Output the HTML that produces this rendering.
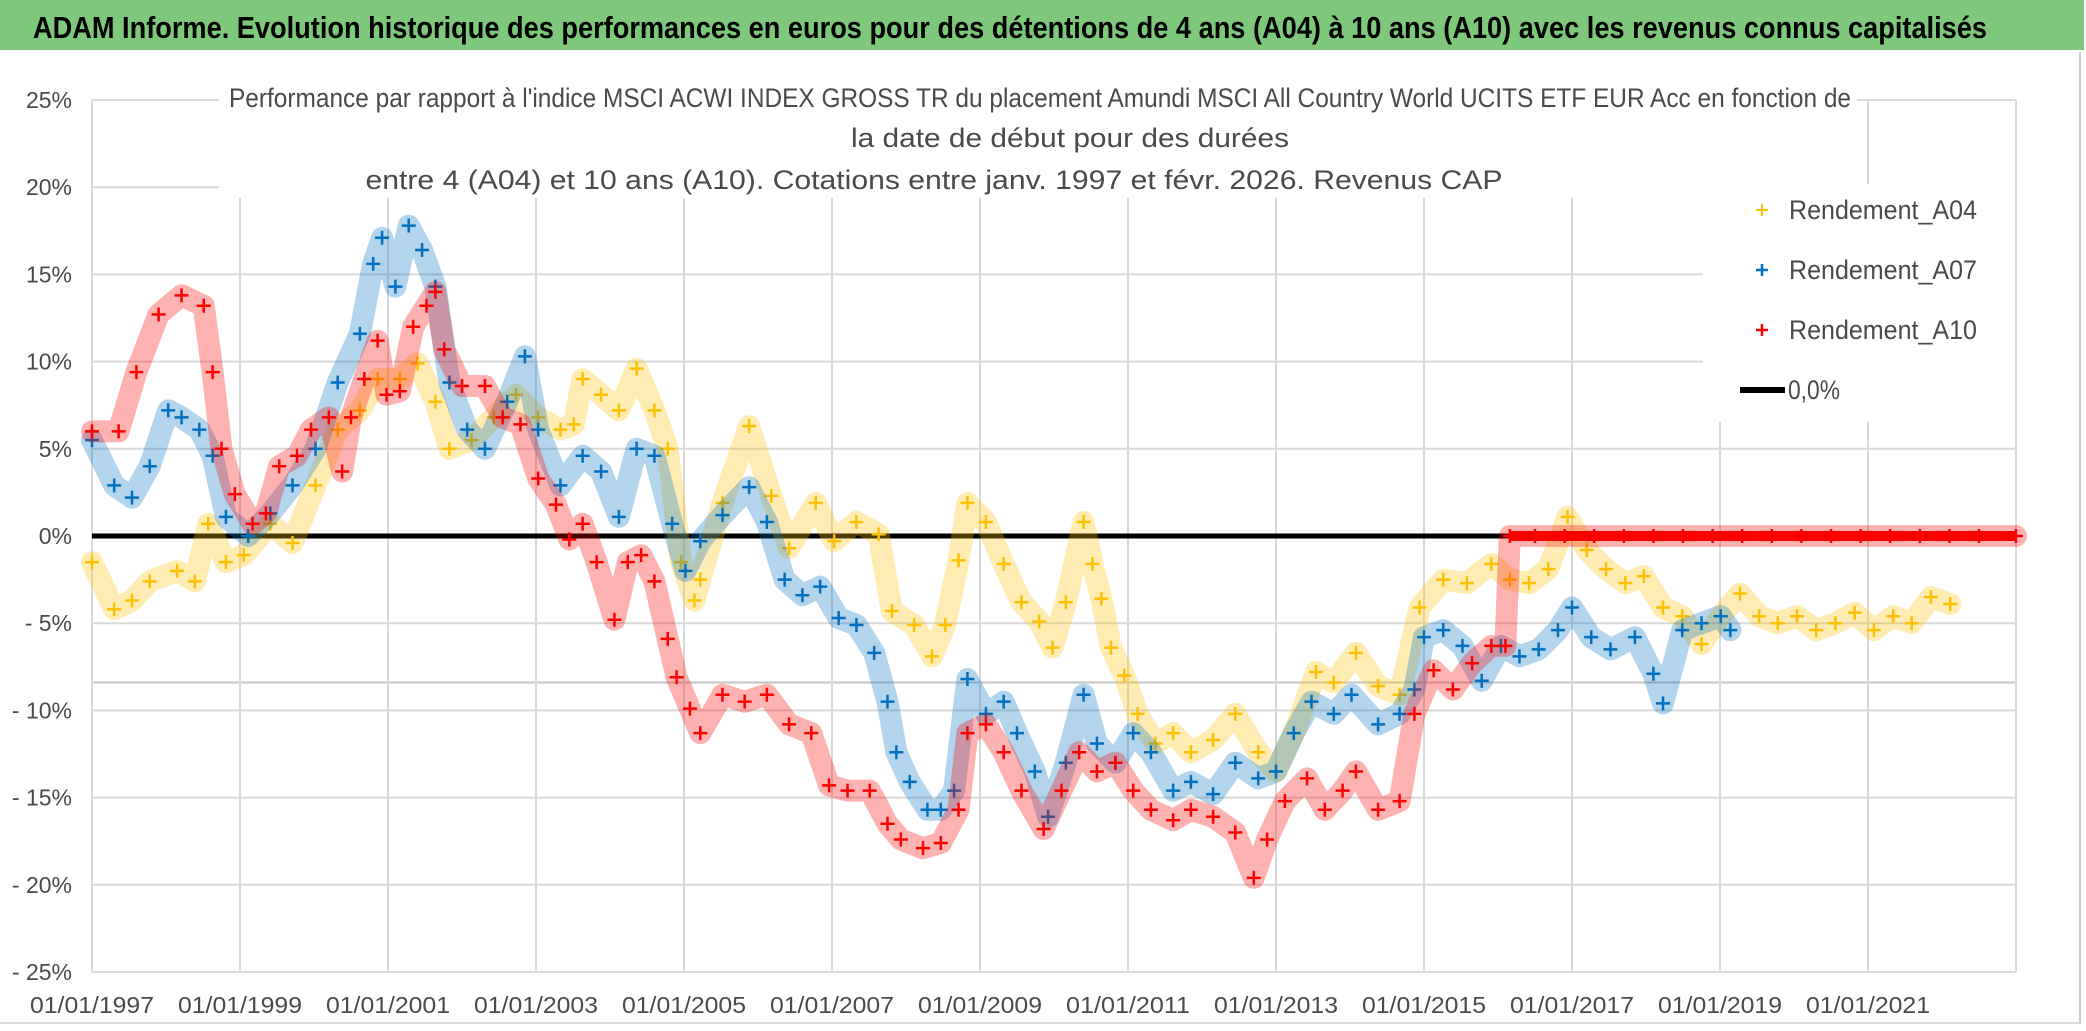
<!DOCTYPE html>
<html><head><meta charset="utf-8"><style>
html,body{margin:0;padding:0;background:#fff;}
svg{display:block;font-family:"Liberation Sans",sans-serif;}
</style></head><body>
<svg id="chart" width="2086" height="1031" viewBox="0 0 2086 1031" xmlns="http://www.w3.org/2000/svg">
<rect x="0" y="0" width="2086" height="1031" fill="#ffffff"/>
<rect x="0" y="0" width="2084" height="50" fill="#7dc87b"/>
<text x="33" y="38" font-size="31" font-weight="bold" fill="#000" textLength="1954" lengthAdjust="spacingAndGlyphs">ADAM Informe. Evolution historique des performances en euros pour des détentions de 4 ans (A04) à 10 ans (A10) avec les revenus connus capitalisés</text>
<line x1="2080" y1="52" x2="2080" y2="1024" stroke="#d0d0d0" stroke-width="2"/>
<line x1="0" y1="1023" x2="2080" y2="1023" stroke="#d9d9d9" stroke-width="2"/>
<g id="grid"></g>
<g id="series"></g>
<rect x="219" y="78" width="1638" height="120" fill="#fff"/>
<g fill="#4a4a4a" font-size="27">
<text x="229" y="107" textLength="1622" lengthAdjust="spacingAndGlyphs">Performance par rapport à l'indice MSCI ACWI INDEX GROSS TR  du placement Amundi MSCI All Country World UCITS ETF EUR Acc en fonction de</text>
<text x="1070" y="147" text-anchor="middle" textLength="438" lengthAdjust="spacingAndGlyphs">la date de début pour des durées</text>
<text x="934" y="189" text-anchor="middle" textLength="1137" lengthAdjust="spacingAndGlyphs">entre 4 (A04) et 10 ans (A10). Cotations entre janv. 1997 et févr. 2026. Revenus CAP</text>
</g>
<rect x="1703" y="184" width="312" height="238" fill="#fff"/>
<g font-size="27" fill="#4a4a4a">
<g>
<path d="M1756 210h12M1762 204v12" stroke="#ffc000" stroke-width="2"/>
<text x="1789" y="219" textLength="188" lengthAdjust="spacingAndGlyphs">Rendement_A04</text></g>
<g>
<path d="M1756 270h12M1762 264v12" stroke="#0070c0" stroke-width="2.5"/>
<text x="1789" y="279" textLength="188" lengthAdjust="spacingAndGlyphs">Rendement_A07</text></g>
<g>
<path d="M1756 330h12M1762 324v12" stroke="#ff0000" stroke-width="2.5"/>
<text x="1789" y="339" textLength="188" lengthAdjust="spacingAndGlyphs">Rendement_A10</text></g>
<g>
<line x1="1740" y1="390" x2="1785" y2="390" stroke="#000" stroke-width="6"/>
<text x="1788" y="399" textLength="52" lengthAdjust="spacingAndGlyphs">0,0%</text></g>
</g>
<g id="axes"></g>
</svg>
<script>
const yTickValues = [25, 20, 15, 10, 5, 0, -5, -10, -15, -20, -25];
const yTickLabels = ["25%", "20%", "15%", "10%", "5%", "0%", "- 5%", "- 10%", "- 15%", "- 20%", "- 25%"];
const xTickYears = [1997, 1999, 2001, 2003, 2005, 2007, 2009, 2011, 2013, 2015, 2017, 2019, 2021];
const xTickLabels = ["01/01/1997", "01/01/1999", "01/01/2001", "01/01/2003", "01/01/2005", "01/01/2007", "01/01/2009", "01/01/2011", "01/01/2013", "01/01/2015", "01/01/2017", "01/01/2019", "01/01/2021"];
const extraLineValue = -8.4;

const a04Dates = [1997.0,1997.3,1997.54,1997.78,1998.15,1998.39,1998.57,1998.81,1999.05,1999.41,1999.71,2000.02,2000.32,2000.62,2000.86,2001.16,2001.4,2001.64,2001.83,2002.13,2002.43,2002.73,2003.03,2003.33,2003.51,2003.63,2003.88,2004.12,2004.36,2004.6,2004.78,2004.96,2005.14,2005.22,2005.52,2005.88,2006.18,2006.42,2006.78,2007.03,2007.33,2007.63,2007.81,2008.11,2008.35,2008.53,2008.71,2008.83,2009.08,2009.32,2009.56,2009.8,2009.98,2010.16,2010.4,2010.52,2010.64,2010.77,2010.95,2011.13,2011.37,2011.61,2011.85,2012.15,2012.45,2012.76,2013.0,2013.24,2013.54,2013.78,2014.08,2014.38,2014.67,2014.94,2015.26,2015.58,2015.91,2016.16,2016.42,2016.68,2016.94,2017.2,2017.46,2017.72,2017.97,2018.23,2018.49,2018.75,2019.01,2019.27,2019.53,2019.78,2020.04,2020.3,2020.56,2020.82,2021.08,2021.34,2021.59,2021.85,2022.11];
const a04Values = [-1.5,-4.2,-3.7,-2.6,-2.0,-2.6,0.7,-1.5,-1.1,0.7,-0.4,2.9,6.1,7.2,9.0,9.0,9.9,7.7,5.0,5.5,6.8,8.1,6.8,6.1,6.4,9.0,8.1,7.2,9.6,7.2,5.0,-1.5,-3.7,-2.5,1.9,6.3,2.3,-0.7,1.9,-0.3,0.8,0.1,-4.3,-5.1,-6.9,-5.1,-1.4,1.9,0.8,-1.6,-3.8,-4.9,-6.4,-3.8,0.8,-1.6,-3.6,-6.4,-8.0,-10.2,-11.9,-11.3,-12.4,-11.7,-10.2,-12.4,-13.5,-11.3,-7.8,-8.4,-6.7,-8.6,-9.1,-4.1,-2.5,-2.7,-1.6,-2.5,-2.7,-1.9,1.1,-0.8,-1.9,-2.7,-2.3,-4.1,-4.6,-6.2,-4.6,-3.3,-4.6,-5.0,-4.6,-5.4,-5.0,-4.4,-5.4,-4.6,-5.0,-3.5,-3.9];

const a07Dates = [1997.0,1997.3,1997.54,1997.78,1998.03,1998.21,1998.45,1998.63,1998.81,1999.11,1999.41,1999.71,2000.02,2000.32,2000.62,2000.8,2000.92,2001.1,2001.28,2001.46,2001.64,2001.83,2002.07,2002.31,2002.61,2002.85,2003.03,2003.33,2003.63,2003.88,2004.12,2004.36,2004.6,2004.84,2005.02,2005.22,2005.52,2005.88,2006.12,2006.36,2006.6,2006.84,2007.09,2007.33,2007.57,2007.75,2007.87,2008.05,2008.29,2008.47,2008.65,2008.83,2009.08,2009.32,2009.5,2009.74,2009.92,2010.16,2010.4,2010.58,2010.83,2011.07,2011.31,2011.61,2011.85,2012.15,2012.45,2012.76,2013.0,2013.24,2013.48,2013.78,2014.02,2014.38,2014.67,2014.87,2015.0,2015.26,2015.52,2015.78,2016.04,2016.29,2016.55,2016.81,2017.0,2017.26,2017.52,2017.85,2018.1,2018.23,2018.49,2018.75,2019.01,2019.14];
const a07Values = [5.5,2.9,2.2,4.0,7.2,6.8,6.1,4.6,1.1,0.0,1.3,2.9,5.0,8.8,11.6,15.6,17.1,14.3,17.8,16.4,14.3,8.8,6.1,5.0,7.7,10.3,6.1,2.9,4.6,3.7,1.1,5.0,4.6,0.7,-2.0,-0.3,1.2,2.8,0.8,-2.5,-3.4,-2.9,-4.7,-5.1,-6.7,-9.5,-12.4,-14.1,-15.7,-15.7,-14.6,-8.2,-10.2,-9.5,-11.3,-13.5,-16.1,-13.0,-9.1,-11.9,-13.0,-11.3,-12.4,-14.6,-14.1,-14.8,-13.0,-13.9,-13.5,-11.3,-9.5,-10.2,-9.1,-10.8,-10.2,-8.8,-5.8,-5.4,-6.3,-8.3,-6.3,-6.9,-6.5,-5.4,-4.1,-5.8,-6.5,-5.8,-7.9,-9.6,-5.4,-5.0,-4.6,-5.4];

const a10Dates = [1997.0,1997.36,1997.6,1997.9,1998.21,1998.51,1998.63,1998.75,1998.93,1999.17,1999.35,1999.53,1999.77,1999.96,2000.2,2000.38,2000.5,2000.68,2000.86,2000.98,2001.16,2001.34,2001.52,2001.64,2001.76,2002.0,2002.31,2002.55,2002.79,2003.03,2003.27,2003.45,2003.63,2003.82,2004.06,2004.24,2004.42,2004.6,2004.78,2004.9,2005.08,2005.22,2005.52,2005.82,2006.12,2006.42,2006.72,2006.96,2007.21,2007.51,2007.75,2007.93,2008.23,2008.47,2008.71,2008.83,2009.08,2009.32,2009.56,2009.86,2010.1,2010.34,2010.58,2010.83,2011.07,2011.31,2011.61,2011.85,2012.15,2012.45,2012.7,2012.88,2013.12,2013.42,2013.66,2013.9,2014.08,2014.38,2014.67,2014.87,2015.13,2015.39,2015.65,2015.91,2016.1,2016.16,2016.5,2016.9,2017.3,2017.7,2018.1,2018.5,2018.9,2019.3,2019.7,2020.1,2020.5,2020.9,2021.3,2021.7,2022.1,2022.5,2023.0];
const a10Values = [6.0,6.0,9.4,12.7,13.8,13.2,9.4,5.0,2.4,0.7,1.3,4.0,4.6,6.1,6.8,3.7,6.8,9.0,11.2,8.1,8.3,12.0,13.2,14.0,10.7,8.6,8.6,6.8,6.4,3.3,1.8,-0.2,0.7,-1.5,-4.8,-1.5,-1.1,-2.6,-5.9,-8.1,-9.9,-11.3,-9.1,-9.5,-9.1,-10.8,-11.3,-14.3,-14.6,-14.6,-16.5,-17.4,-17.9,-17.6,-15.7,-11.3,-10.8,-12.4,-14.6,-16.8,-14.6,-12.4,-13.5,-13.0,-14.6,-15.7,-16.3,-15.7,-16.1,-17.0,-19.6,-17.4,-15.2,-13.9,-15.7,-14.6,-13.5,-15.7,-15.2,-10.2,-7.7,-8.8,-7.3,-6.3,-6.3,0,0,0,0,0,0,0,0,0,0,0,0,0,0,0,0,0,0];

const NS = "http://www.w3.org/2000/svg";
const plotLeft = 92, plotRight = 2016, plotTop = 100, plotBottom = 972;
const xMin = 1997, xMax = 2023, yMin = -25, yMax = 25;
function xScale(year) { return plotLeft + (year - xMin) / (xMax - xMin) * (plotRight - plotLeft); }
function yScale(v) { return plotBottom - (v - yMin) / (yMax - yMin) * (plotBottom - plotTop); }
function mk(tag, attrs, parent) {
  const e = document.createElementNS(NS, tag);
  for (const k in attrs) e.setAttribute(k, attrs[k]);
  parent.appendChild(e);
  return e;
}

const grid = document.getElementById("grid");
const axes = document.getElementById("axes");
yTickValues.forEach((v, i) => {
  const gl = mk("line", {x1: plotLeft, x2: plotRight, y1: yScale(v), y2: yScale(v), stroke: "#d9d9d9", "stroke-width": 2}, grid);
  
  
  const t = mk("text", {x: 72, y: yScale(v) + 8, "text-anchor": "end", "font-size": 23, fill: "#4a4a4a"}, axes);
  t.textContent = yTickLabels[i];
  
  
});
const el = mk("line", {x1: plotLeft, x2: plotRight, y1: yScale(extraLineValue), y2: yScale(extraLineValue), stroke: "#c4c4c4", "stroke-width": 2}, grid);


for (let yr = xMin; yr <= xMax; yr += 2) {
  const vl = mk("line", {x1: xScale(yr), x2: xScale(yr), y1: plotTop, y2: plotBottom, stroke: "#d9d9d9", "stroke-width": 2}, grid);
  
  
}
xTickYears.forEach((yr, i) => {
  const t = mk("text", {x: xScale(yr), y: 1013, "text-anchor": "middle", "font-size": 23, fill: "#4a4a4a", textLength: 124, lengthAdjust: "spacingAndGlyphs"}, axes);
  t.textContent = xTickLabels[i];
  
  
});

const layer = document.getElementById("series");
const zl = mk("line", {x1: plotLeft, x2: plotRight, y1: yScale(0), y2: yScale(0), stroke: "#000", "stroke-width": 5}, layer);



function drawSeries(dates, values, color, name) {
  const g = mk("g", {}, layer);
  
  
  const pts = dates.map((d, i) => xScale(d).toFixed(1) + "," + yScale(values[i]).toFixed(1)).join(" ");
  const band = mk("polyline", {points: pts, fill: "none", stroke: color, "stroke-width": 22, "stroke-opacity": 0.3, "stroke-linejoin": "round", "stroke-linecap": "round"}, g);
  
  
  // solid segments where consecutive values are both exactly zero (flat 0% run)
  for (let i = 1; i < dates.length; i++) {
    if (values[i] === 0 && values[i - 1] === 0) {
      const s = mk("line", {x1: xScale(dates[i - 1]), x2: xScale(dates[i]), y1: yScale(0), y2: yScale(0), stroke: color, "stroke-width": 10}, g);
      
      
    }
  }
  dates.forEach((d, i) => {
    const x = xScale(d), y = yScale(values[i]);
    const p = mk("path", {d: `M${x-7} ${y}h14M${x} ${y-7}v14`, stroke: color, "stroke-width": 2.5}, g);
    
    
  });
}
drawSeries(a04Dates, a04Values, "#ffc000", "series-a04");
drawSeries(a07Dates, a07Values, "#0070c0", "series-a07");
drawSeries(a10Dates, a10Values, "#ff0000", "series-a10");
</script>
</body></html>
